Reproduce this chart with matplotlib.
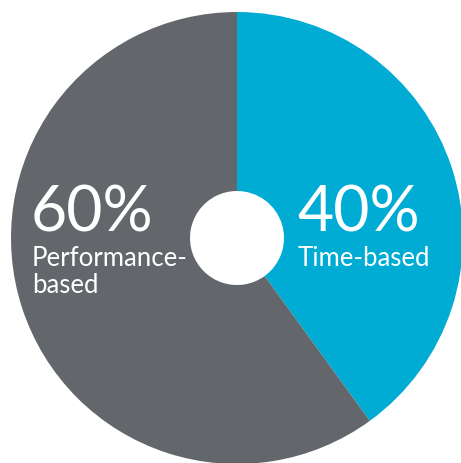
import matplotlib.pyplot as plt

labels = ["Time-based", "Performance-\nbased"]
shares = [40, 60]
colors = ["#00ACD4", "#63676C"]

W, H = 461, 463
fig = plt.figure(figsize=(W / 100, H / 100), dpi=100)
ax = fig.add_axes([0, 0, 1, 1])

# donut, clockwise from 12 o'clock
cx, cy, r, hole = 237, H - 238, 226, 47
ax.pie(shares, colors=colors, startangle=90, counterclock=False,
       center=(cx, cy), radius=r, frame=True,
       wedgeprops=dict(width=r - hole, linewidth=0))
ax.set_xlim(0, W)
ax.set_ylim(0, H)
ax.set_aspect("equal")
ax.axis("off")

font = dict(family=["Lato", "DejaVu Sans"], color="white", fontweight="normal")
ax.text(297, H - 232, f"{shares[0]}%", fontsize=45, va="baseline", ha="left", **font)
ax.text(298, H - 266, labels[0], fontsize=18.5, va="baseline", ha="left", **font)
ax.text(31, H - 232, f"{shares[1]}%", fontsize=45, va="baseline", ha="left", **font)
ax.text(32, H - 266, labels[1].split("\n")[0], fontsize=18.5, va="baseline", ha="left", **font)
ax.text(32, H - 293, labels[1].split("\n")[1], fontsize=18.5, va="baseline", ha="left", **font)

fig.savefig("out.png", dpi=100)
